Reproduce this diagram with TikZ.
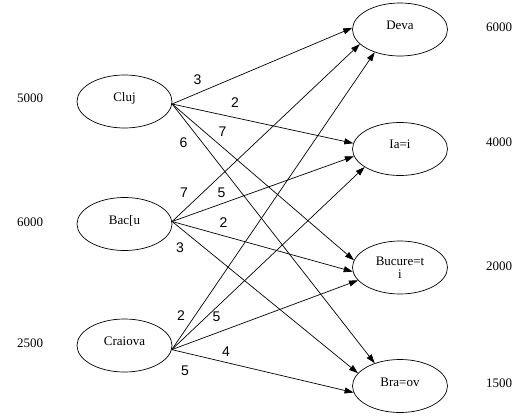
\documentclass[tikz,border=0pt]{standalone}
\usepackage{fontspec}
\setmainfont{Liberation Serif}
\newfontfamily\costfont{Liberation Sans}
\usetikzlibrary{shapes.geometric,arrows.meta}
\begin{document}
\begin{tikzpicture}[x=1pt, y=-1pt, >={Triangle[length=9pt,width=6pt]}, line width=0.7pt,
		town/.style={ellipse, draw, minimum width=95pt, minimum height=53pt, inner sep=0pt, font=\fontsize{13}{13}\selectfont},
		oneline/.style={text height=8pt, text depth=8pt},
		qty/.style={font=\fontsize{13}{13}\selectfont},
		cost/.style={font=\costfont\fontsize{14}{14}\selectfont}]
	\useasboundingbox (0,0) rectangle (530,417);
	
	% Các nút nguồn (bên trái)
	\node[town, oneline] (cluj) at (124.5,101.5) {Cluj};
	\node[town, oneline] (bacau) at (124.5,224) {Bac[u};
	\node[town, oneline] (craiova) at (124.5,345.5) {Craiova};
	
	% Các nút đích (bên phải)
	\node[town, oneline] (deva) at (400,29.5) {Deva};
	\node[town, oneline] (iasi) at (400,149) {Ia=i};
	\node[town, align=center] (bucuresti) at (400,267.5) {Bucure=t\\i};
	\node[town, oneline] (brasov) at (400,386) {Bra=ov};
	
	% Lượng cung và cầu
	\node[qty] (s1) at (30,98.5) {5000};
	\node[qty] (s2) at (30,222.5) {6000};
	\node[qty] (s3) at (30,343.5) {2500};
	\node[qty] (d1) at (499,27) {6000};
	\node[qty] (d2) at (499,142.5) {4000};
	\node[qty] (d3) at (499,266) {2000};
	\node[qty] (d4) at (499,383) {1500};
	
	% Các cung từ Cluj
	\draw[->] (cluj.-3) -- (deva.178);
	\draw[->] (cluj.-3) -- (iasi.173);
	\draw[->] (cluj.-3) -- (bucuresti.171);
	\draw[->] (cluj.-3) -- (brasov.138);
	
	% Các cung từ Bacau
	\draw[->] (bacau.3) -- (deva.200);
	\draw[->] (bacau.3) -- (iasi.189);
	\draw[->] (bacau.3) -- (bucuresti.185);
	\draw[->] (bacau.3) -- (brasov.163);
	
	% Các cung từ Craiova
	\draw[->] (craiova.-5) -- (deva.222);
	\draw[->] (craiova.-5) -- (iasi.207);
	\draw[->] (craiova.-5) -- (bucuresti.197);
	\draw[->] (craiova.-5) -- (brasov.188);
	
	% Chi phí trên các cung
	\node[cost] (c11) at (197.5,80) {3};
	\node[cost] (c12) at (235,103) {2};
	\node[cost] (c13) at (222.5,132) {7};
	\node[cost] (c14) at (183.5,143) {6};
	\node[cost] (c21) at (184,193) {7};
	\node[cost] (c22) at (221.5,193) {5};
	\node[cost] (c23) at (223.5,223) {2};
	\node[cost] (c24) at (180,248) {3};
	\node[cost] (c31) at (181,316) {2};
	\node[cost] (c32) at (216.5,317) {5};
	\node[cost] (c33) at (226,352) {4};
	\node[cost] (c34) at (185,371) {5};
\end{tikzpicture}
\end{document}
